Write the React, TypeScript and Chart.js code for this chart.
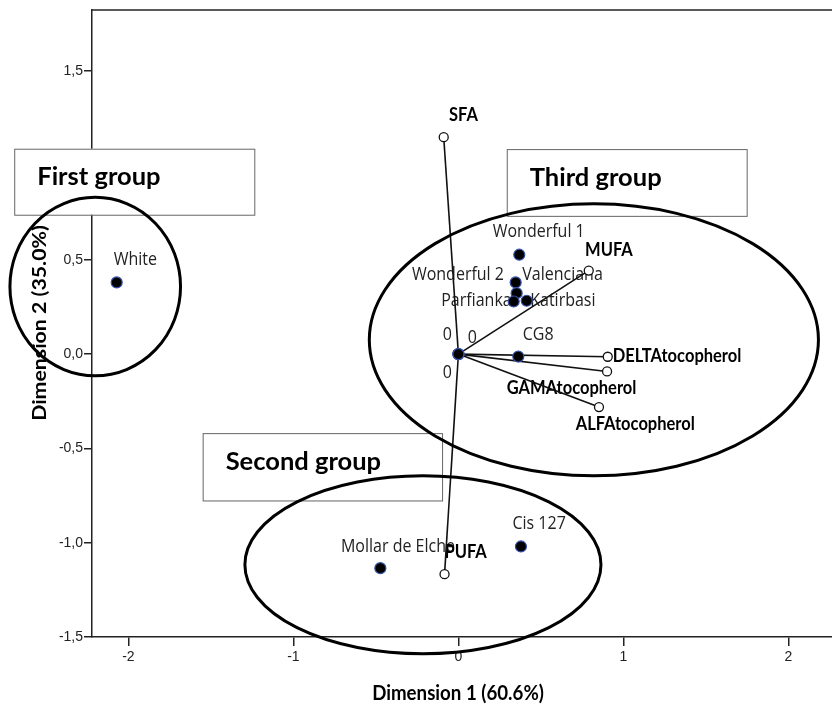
import React, { useEffect, useRef } from "react";
import { Chart, registerables } from "chart.js";

Chart.register(...registerables);

// ---------- data ----------
const objectNames = [
  "White",
  "Wonderful 1",
  "Wonderful 2",
  "Valenciana",
  "Parfianka",
  "Katirbasi",
  "CG8",
  "Mollar de Elche",
  "Cis 127",
  "0",
  "0",
  "0",
];
const objectX = [-2.071, 0.369, 0.347, 0.353, 0.335, 0.414, 0.363, -0.473, 0.379, 0, 0, 0];
const objectY = [0.38, 0.527, 0.38, 0.323, 0.279, 0.283, -0.013, -1.135, -1.02, 0, 0, 0];

const variableNames = ["SFA", "MUFA", "DELTAtocopherol", "GAMAtocopherol", "ALFAtocopherol", "PUFA"];
const variableX = [-0.089, 0.79, 0.905, 0.901, 0.852, -0.084];
const variableY = [1.15, 0.443, -0.014, -0.092, -0.281, -1.167];

const xTickValues = [-2, -1, 0, 1, 2];
const yTickValues = [-1.5, -1.0, -0.5, 0.0, 0.5, 1.0, 1.5];

const xTitle = "Dimension 1 (60.6%)";
const yTitle = "Dimension 2 (35.0%)";

const groupNames = ["First group", "Second group", "Third group"];

// ---------- layout / annotation geometry (data units) ----------
const X_MIN = -2.2206;
const X_MAX = 2.2642;
const Y_MIN = -1.5;
const Y_MAX = 1.8245;

const groupBoxes = [
  { x0: -2.692, x1: -1.237, y0: 1.089, y1: 0.739 },
  { x0: -1.55, x1: -0.099, y0: -0.419, y1: -0.776 },
  { x0: 0.293, x1: 1.747, y0: 1.087, y1: 0.733 },
];
const groupEllipses = [
  { cx: -2.201, cy: 0.358, rx: 0.517, ry: 0.473 },
  { cx: -0.215, cy: -1.117, rx: 1.079, ry: 0.472 },
  { cx: 0.821, cy: 0.076, rx: 1.361, ry: 0.721 },
];

// label placement (pixel offsets from the point)
const objectLabelPos: { align: CanvasTextAlign; dx: number; dy: number }[] = [
  { align: "left", dx: -3, dy: -17.5 },
  { align: "left", dx: -26.6, dy: -17.7 },
  { align: "right", dx: -11.7, dy: -2.7 },
  { align: "left", dx: 5.6, dy: -13.3 },
  { align: "right", dx: -2, dy: 5 },
  { align: "left", dx: 3.5, dy: 5.7 },
  { align: "left", dx: 4.4, dy: -16.7 },
  { align: "left", dx: -39.4, dy: -16.6 },
  { align: "left", dx: -8.5, dy: -17.4 },
  { align: "right", dx: -6.5, dy: -14 },
  { align: "left", dx: 9.3, dy: -11 },
  { align: "right", dx: -6.5, dy: 23.4 },
];
const variableLabelPos: { align: CanvasTextAlign; dx: number; dy: number }[] = [
  { align: "left", dx: 5.3, dy: -16.6 },
  { align: "left", dx: -3.7, dy: -15 },
  { align: "left", dx: 5, dy: 5.7 },
  { align: "left", dx: -100.3, dy: 22.3 },
  { align: "left", dx: -23.3, dy: 22.7 },
  { align: "left", dx: 0, dy: -16 },
];

const OBJ_FONT = "16px 'Open Sans'";
const VAR_FONT = "bold 16.5px Lato";
const GROUP_FONT = "bold 25.5px Lato";
const TITLE_FONT = "bold 18.7px Lato";

function drawText(
  ctx: CanvasRenderingContext2D,
  text: string,
  x: number,
  y: number,
  font: string,
  align: CanvasTextAlign,
  sx = 1,
  sy = 1,
  color = "#000",
  rotate = 0
) {
  ctx.save();
  ctx.translate(x, y);
  if (rotate) ctx.rotate(rotate);
  ctx.scale(sx, sy);
  ctx.font = font;
  ctx.textAlign = align;
  ctx.textBaseline = "alphabetic";
  ctx.fillStyle = color;
  ctx.fillText(text, 0, 0);
  ctx.restore();
}

const decorPlugin = {
  id: "biplotDecor",
  beforeDatasetsDraw(chart: any) {
    const { ctx, chartArea } = chart;
    const xs = chart.scales.x;
    const ys = chart.scales.y;
    ctx.save();
    // top frame line
    ctx.strokeStyle = "#222";
    ctx.lineWidth = 1.5;
    ctx.beginPath();
    ctx.moveTo(chartArea.left, chartArea.top);
    ctx.lineTo(chartArea.right, chartArea.top);
    ctx.stroke();

    // group boxes
    groupBoxes.forEach((b, i) => {
      const px0 = xs.getPixelForValue(b.x0);
      const px1 = xs.getPixelForValue(b.x1);
      const py0 = ys.getPixelForValue(b.y0);
      const py1 = ys.getPixelForValue(b.y1);
      ctx.fillStyle = "#fff";
      ctx.fillRect(px0, py0, px1 - px0, py1 - py0);
      ctx.strokeStyle = "#666";
      ctx.lineWidth = 1;
      ctx.strokeRect(px0 + 0.5, py0 + 0.5, px1 - px0, py1 - py0);
      drawText(ctx, groupNames[i], px0 + 23, py0 + 36.5, GROUP_FONT, "left", 1, 1.0, "#000");
    });

    // axis titles
    drawText(ctx, xTitle, 458, 700, TITLE_FONT, "center", 1, 1.1, "#000");
    drawText(ctx, yTitle, 46, 323, TITLE_FONT, "center", 1.14, 1, "#000", -Math.PI / 2);

    // object labels
    objectNames.forEach((name, i) => {
      const p = objectLabelPos[i];
      const px = xs.getPixelForValue(objectX[i]);
      const py = ys.getPixelForValue(objectY[i]);
      drawText(ctx, name, px + p.dx, py + p.dy, OBJ_FONT, p.align, 1, 1.08, "#222");
    });
    // variable labels
    variableNames.forEach((name, i) => {
      const p = variableLabelPos[i];
      const px = xs.getPixelForValue(variableX[i]);
      const py = ys.getPixelForValue(variableY[i]);
      drawText(ctx, name, px + p.dx, py + p.dy, VAR_FONT, p.align, 1, 1.1, "#000");
    });
    ctx.restore();
  },
  afterDatasetsDraw(chart: any) {
    const { ctx } = chart;
    const xs = chart.scales.x;
    const ys = chart.scales.y;
    ctx.save();
    ctx.strokeStyle = "#000";
    ctx.lineWidth = 3;
    groupEllipses.forEach((e) => {
      const cx = xs.getPixelForValue(e.cx);
      const cy = ys.getPixelForValue(e.cy);
      const rx = Math.abs(xs.getPixelForValue(e.cx + e.rx) - cx);
      const ry = Math.abs(ys.getPixelForValue(e.cy + e.ry) - cy);
      ctx.beginPath();
      ctx.ellipse(cx, cy, rx, ry, 0, 0, Math.PI * 2);
      ctx.stroke();
    });
    ctx.restore();
  },
};

function zeroPadding(s: any) {
  s.paddingLeft = 0;
  s.paddingRight = 0;
  s.paddingTop = 0;
  s.paddingBottom = 0;
}

export default function App() {
  const canvasRef = useRef<HTMLCanvasElement | null>(null);

  useEffect(() => {
    const canvas = canvasRef.current;
    if (!canvas) return;

    const vectorDatasets = variableNames.map((n, i) => ({
      label: n + " vector",
      data: [
        { x: 0, y: 0 },
        { x: variableX[i], y: variableY[i] },
      ],
      showLine: true,
      borderColor: "#111",
      borderWidth: 1.6,
      pointRadius: 0,
      order: 3,
    }));

    const chart = new Chart(canvas, {
      type: "scatter",
      data: {
        datasets: [
          {
            label: "Objects",
            data: objectX.map((x, i) => ({ x, y: objectY[i] })),
            pointRadius: 5.5,
            pointBackgroundColor: "#000",
            pointBorderColor: "#3552a8",
            pointBorderWidth: 1.2,
            order: 1,
          },
          {
            label: "Variables",
            data: variableX.map((x, i) => ({ x, y: variableY[i] })),
            pointRadius: 4.5,
            pointBackgroundColor: "#fff",
            pointBorderColor: "#111",
            pointBorderWidth: 1.3,
            order: 2,
          },
          ...vectorDatasets,
        ] as any,
      },
      options: {
        responsive: false,
        maintainAspectRatio: false,
        animation: false,
        events: [],
        layout: { padding: { top: 10, right: 0, left: 0, bottom: 0 }, autoPadding: false },
        plugins: {
          legend: { display: false },
          tooltip: { enabled: false },
          title: { display: false },
        },
        scales: {
          x: {
            type: "linear",
            min: X_MIN,
            max: X_MAX,
            afterFit: (s: any) => {
              s.height = 70;
              zeroPadding(s);
            },
            afterBuildTicks: (s: any) => {
              s.ticks = xTickValues.map((v) => ({ value: v }));
            },
            border: { display: true, color: "#222", width: 1.5 },
            grid: {
              display: true,
              drawOnChartArea: false,
              drawTicks: true,
              tickLength: 9,
              color: "#222",
              lineWidth: 1.5,
            },
            ticks: {
              stepSize: 1,
              includeBounds: false,
              autoSkip: false,
              maxRotation: 0,
              padding: 3,
              color: "#222",
              font: { family: "'Liberation Sans'", size: 14 },
              callback: (v: any) => String(v),
            },
          },
          y: {
            type: "linear",
            min: Y_MIN,
            max: Y_MAX,
            afterFit: (s: any) => {
              s.width = 92;
              zeroPadding(s);
            },
            afterBuildTicks: (s: any) => {
              s.ticks = yTickValues.map((v) => ({ value: v }));
            },
            border: { display: true, color: "#222", width: 1.5 },
            grid: {
              display: true,
              drawOnChartArea: false,
              drawTicks: true,
              tickLength: 8,
              color: "#222",
              lineWidth: 1.5,
            },
            ticks: {
              stepSize: 0.5,
              includeBounds: false,
              autoSkip: false,
              padding: 1,
              color: "#222",
              font: { family: "'Liberation Sans'", size: 14 },
              callback: (v: any) => Number(v).toFixed(1).replace(".", ","),
            },
          },
        },
      } as any,
      plugins: [decorPlugin],
    });

    return () => {
      chart.destroy();
    };
  }, []);

  return (
    <div style={{ position: "absolute", left: 0, top: 0, width: 832, height: 707 }}>
      <canvas ref={canvasRef} width={832} height={707} style={{ display: "block", width: 832, height: 707 }} />
    </div>
  );
}
